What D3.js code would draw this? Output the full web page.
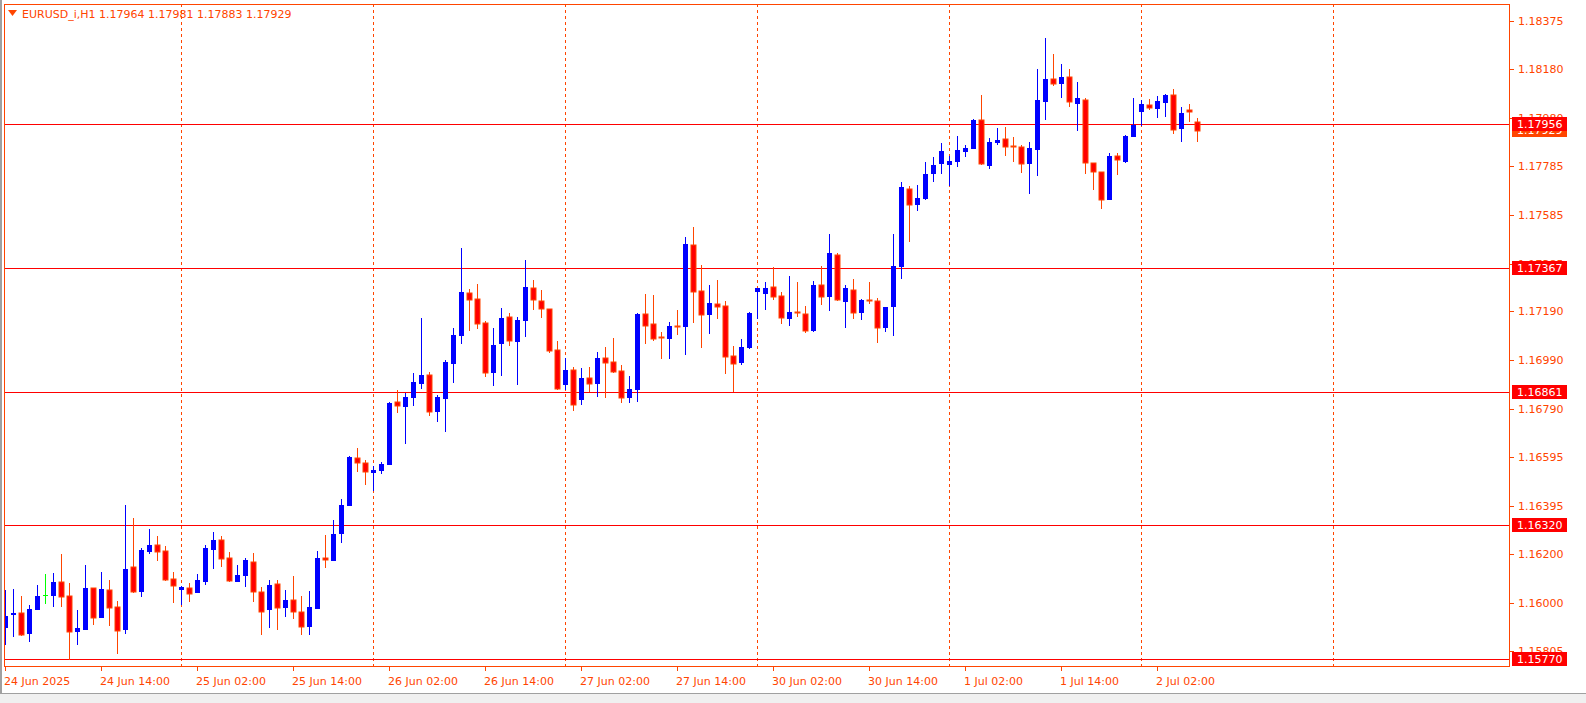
<!DOCTYPE html>
<html>
<head>
<meta charset="utf-8">
<script src="https://cdn.jsdelivr.net/npm/d3@7"></script>
<style>
  body { margin: 0; background: #fff; }
  svg { display: block; }
  text { font-family: "DejaVu Sans", sans-serif; font-size: 11px; }
</style>
</head>
<body>
<svg id="chart" width="1586" height="703"></svg>
<script>
// EURUSD_i H1, bar by bar (O, H, L, C)
var opens = [1.15898,1.15953,1.15960,1.15873,1.15972,1.16032,1.16031,1.16087,1.16030,1.15884,
  1.15892,1.16062,1.15941,1.16054,1.15985,1.15892,1.16148,1.16047,1.16210,1.16238,
  1.16213,1.16099,1.16055,1.16062,1.16043,1.16088,1.16217,1.16258,1.16185,1.16088,
  1.16108,1.16168,1.16046,1.15970,1.16078,1.15982,1.16013,1.15964,1.15904,1.15978,
  1.16185,1.16172,1.16284,1.16397,1.16591,1.16571,1.16533,1.16541,1.16565,1.16820,
  1.16798,1.16839,1.16896,1.16931,1.16778,1.16831,1.16977,1.17092,1.17266,1.17241,
  1.17143,1.16937,1.17059,1.17166,1.17067,1.17153,1.17285,1.17232,1.17199,1.17032,
  1.16888,1.16950,1.16829,1.16918,1.16895,1.17000,1.16982,1.16947,1.16835,1.16869,
  1.17180,1.17139,1.17086,1.17079,1.17132,1.17126,1.17461,1.17273,1.17177,1.17220,
  1.17212,1.17008,1.16981,1.17042,1.17271,1.17262,1.17290,1.17253,1.17160,1.17186,
  1.17180,1.17111,1.17298,1.17250,1.17420,1.17230,1.17277,1.17185,1.17235,1.17233,
  1.17124,1.17208,1.17371,1.17689,1.17626,1.17649,1.17753,1.17790,1.17790,1.17802,
  1.17843,1.17855,1.17972,1.17786,1.17879,1.17894,1.17865,1.17862,1.17794,1.17847,
  1.18044,1.18139,1.18120,1.18147,1.18036,1.18053,1.17796,1.17760,1.17647,1.17825,
  1.17802,1.17904,1.18006,1.18032,1.18018,1.18043,1.18074,1.17936,1.18013,1.17964];
var highs = [1.16054,1.16058,1.16027,1.15993,1.16074,1.16119,1.16122,1.16201,1.16083,1.15972,
  1.16156,1.16062,1.16127,1.16092,1.16010,1.16401,1.16348,1.16224,1.16303,1.16274,
  1.16231,1.16125,1.16068,1.16081,1.16119,1.16238,1.16288,1.16274,1.16210,1.16156,
  1.16183,1.16206,1.16065,1.16092,1.16092,1.16054,1.16111,1.16030,1.16051,1.16213,
  1.16278,1.16340,1.16425,1.16598,1.16633,1.16584,1.16560,1.16576,1.16822,1.16870,
  1.16856,1.16938,1.17164,1.16941,1.16850,1.16992,1.17123,1.17449,1.17281,1.17302,
  1.17152,1.17123,1.17203,1.17184,1.17166,1.17400,1.17319,1.17278,1.17200,1.17070,
  1.16998,1.16965,1.16959,1.16963,1.17024,1.17045,1.17082,1.16971,1.16927,1.17184,
  1.17261,1.17257,1.17106,1.17147,1.17196,1.17494,1.17534,1.17379,1.17298,1.17318,
  1.17233,1.17049,1.17077,1.17188,1.17286,1.17310,1.17371,1.17269,1.17335,1.17310,
  1.17212,1.17314,1.17375,1.17506,1.17428,1.17298,1.17322,1.17241,1.17310,1.17245,
  1.17208,1.17506,1.17720,1.17700,1.17707,1.17800,1.17822,1.17878,1.17825,1.17904,
  1.17870,1.17977,1.18074,1.17898,1.17939,1.17943,1.17902,1.17870,1.17882,1.18180,
  1.18306,1.18241,1.18200,1.18180,1.18127,1.18062,1.17796,1.17760,1.17838,1.17837,
  1.17911,1.18062,1.18051,1.18057,1.18067,1.18079,1.18098,1.18026,1.18037,1.17981];
var lows = [1.15830,1.15860,1.15864,1.15839,1.15970,1.15996,1.15982,1.15982,1.15768,1.15827,
  1.15888,1.15911,1.15938,1.15908,1.15793,1.15875,1.16039,1.16023,1.16200,1.16170,
  1.16088,1.16002,1.15993,1.16006,1.16040,1.16074,1.16140,1.16147,1.16084,1.16088,
  1.16064,1.16006,1.15870,1.15900,1.15891,1.15941,1.15936,1.15868,1.15870,1.15978,
  1.16141,1.16172,1.16243,1.16394,1.16535,1.16482,1.16459,1.16527,1.16564,1.16776,
  1.16650,1.16802,1.16875,1.16764,1.16737,1.16699,1.16899,1.17055,1.17112,1.17119,
  1.16922,1.16884,1.16927,1.17047,1.16890,1.17086,1.17194,1.17164,1.17021,1.16870,
  1.16870,1.16782,1.16809,1.16861,1.16839,1.16838,1.16937,1.16815,1.16815,1.16820,
  1.17057,1.17071,1.16996,1.16996,1.17094,1.17012,1.17143,1.17041,1.17098,1.17160,
  1.16935,1.16861,1.16971,1.17037,1.17159,1.17196,1.17238,1.17139,1.17131,1.17169,
  1.17103,1.17106,1.17218,1.17193,1.17234,1.17124,1.17160,1.17156,1.17222,1.17063,
  1.17107,1.17091,1.17324,1.17475,1.17598,1.17643,1.17720,1.17752,1.17700,1.17781,
  1.17822,1.17855,1.17787,1.17772,1.17868,1.17826,1.17798,1.17753,1.17671,1.17741,
  1.17969,1.18108,1.18059,1.18026,1.17928,1.17749,1.17684,1.17606,1.17647,1.17745,
  1.17794,1.17904,1.17945,1.18013,1.17981,1.17985,1.17912,1.17883,1.17961,1.17883];
var closes = [1.15948,1.15960,1.15870,1.15977,1.16030,1.16032,1.16087,1.16027,1.15884,1.15900,
  1.16062,1.15941,1.16058,1.15982,1.15888,1.16140,1.16047,1.16217,1.16238,1.16210,
  1.16095,1.16072,1.16066,1.16039,1.16095,1.16225,1.16258,1.16182,1.16092,1.16115,
  1.16174,1.16047,1.15964,1.16074,1.15982,1.16013,1.15962,1.15902,1.15985,1.16185,
  1.16175,1.16282,1.16401,1.16597,1.16571,1.16533,1.16544,1.16568,1.16817,1.16802,
  1.16840,1.16903,1.16931,1.16778,1.16841,1.16984,1.17094,1.17270,1.17239,1.17141,
  1.16937,1.17052,1.17164,1.17067,1.17156,1.17290,1.17234,1.17199,1.17026,1.16873,
  1.16950,1.16807,1.16918,1.16895,1.17000,1.16981,1.16940,1.16835,1.16873,1.17180,
  1.17132,1.17079,1.17084,1.17131,1.17130,1.17465,1.17271,1.17177,1.17224,1.17209,
  1.17005,1.16977,1.17045,1.17184,1.17286,1.17286,1.17250,1.17165,1.17188,1.17184,
  1.17111,1.17298,1.17247,1.17428,1.17235,1.17286,1.17185,1.17237,1.17233,1.17124,
  1.17208,1.17375,1.17698,1.17624,1.17654,1.17752,1.17788,1.17845,1.17805,1.17849,
  1.17858,1.17972,1.17794,1.17882,1.17890,1.17860,1.17863,1.17794,1.17858,1.18053,
  1.18139,1.18117,1.18147,1.18044,1.18062,1.17794,1.17761,1.17647,1.17825,1.17807,
  1.17907,1.17951,1.18037,1.18018,1.18049,1.18074,1.17930,1.18000,1.18003,1.17929];

var priceTicks = [1.18375,1.18180,1.17980,1.17785,1.17585,1.17385,1.17190,1.16990,1.16790,1.16595,1.16395,1.16200,1.16000,1.15805];
var levels = [1.17956, 1.17367, 1.16861, 1.16320, 1.15770];
var bidPrice = 1.17929;
var timeLabels = ['24 Jun 2025','24 Jun 14:00','25 Jun 02:00','25 Jun 14:00','26 Jun 02:00','26 Jun 14:00',
  '27 Jun 02:00','27 Jun 14:00','30 Jun 02:00','30 Jun 14:00','1 Jul 02:00','1 Jul 14:00','2 Jul 02:00'];
var labelEvery = 12;
var separators = [22, 46, 70, 94, 118, 142, 166];
var title = 'EURUSD_i,H1  1.17964 1.17981 1.17883 1.17929';

var fg = '#FF4500';
var svg = d3.select('#chart');
var plotL = 4, plotR = 1509, plotT = 4, plotB = 666;

var x = d3.scaleLinear().domain([0, 1]).range([5, 13]);
var y = d3.scaleLinear().domain([1.16000, 1.18375]).range([603, 21]);

// window edges
svg.append('rect').attr('x', 0).attr('y', 0).attr('width', 2).attr('height', 703).attr('fill', '#a0a0a0');
svg.append('rect').attr('x', 0).attr('y', 693).attr('width', 1586).attr('height', 10).attr('fill', '#f0f0f0');
svg.append('line').attr('x1', 0).attr('x2', 1586).attr('y1', 693.5).attr('y2', 693.5).attr('stroke', '#a0a0a0');

svg.append('clipPath').attr('id', 'plot')
  .append('rect').attr('x', plotL).attr('y', plotT).attr('width', plotR - plotL).attr('height', plotB - plotT);
var plot = svg.append('g').attr('clip-path', 'url(#plot)');

// period separators
plot.selectAll('.sep').data(separators).enter().append('line')
  .attr('x1', function(d) { return Math.round(x(d)) + 0.5; })
  .attr('x2', function(d) { return Math.round(x(d)) + 0.5; })
  .attr('y1', plotT).attr('y2', plotB)
  .attr('stroke', fg).attr('stroke-dasharray', '3,3');

// horizontal levels
plot.selectAll('.lvl').data(levels).enter().append('line')
  .attr('x1', plotL).attr('x2', plotR)
  .attr('y1', function(d) { return Math.round(y(d)) + 0.5; })
  .attr('y2', function(d) { return Math.round(y(d)) + 0.5; })
  .attr('stroke', '#FF0000');

// candles
var idx = d3.range(opens.length);
var candle = plot.selectAll('.c').data(idx).enter().append('g');
function col(i) {
  if (opens[i] === closes[i]) return '#00FF00';
  return closes[i] > opens[i] ? '#0000FF' : fg;
}
candle.append('line')
  .attr('x1', function(i) { return Math.round(x(i)) + 0.5; })
  .attr('x2', function(i) { return Math.round(x(i)) + 0.5; })
  .attr('y1', function(i) { return Math.round(y(highs[i])); })
  .attr('y2', function(i) { return Math.round(y(lows[i])); })
  .attr('stroke', col);
candle.append('rect')
  .attr('x', function(i) { return Math.round(x(i)) - 2; })
  .attr('width', 5)
  .attr('y', function(i) { return Math.round(y(Math.max(opens[i], closes[i]))); })
  .attr('height', function(i) { return Math.max(1, Math.round(y(Math.min(opens[i], closes[i])) - y(Math.max(opens[i], closes[i])))); })
  .attr('fill', function(i) { return closes[i] < opens[i] ? '#FF0000' : col(i); })
  .attr('stroke', function(i) { return closes[i] < opens[i] ? fg : 'none'; })
  .attr('stroke-width', 1);

// frame
svg.append('rect').attr('x', plotL + 0.5).attr('y', plotT + 0.5)
  .attr('width', plotR - plotL).attr('height', plotB - plotT)
  .attr('fill', 'none').attr('stroke', fg);

// price axis
var yAxis = svg.append('g');
yAxis.selectAll('line').data(priceTicks).enter().append('line')
  .attr('x1', plotR + 1).attr('x2', plotR + 5)
  .attr('y1', function(d) { return Math.round(y(d)) + 0.5; })
  .attr('y2', function(d) { return Math.round(y(d)) + 0.5; })
  .attr('stroke', fg);
yAxis.selectAll('text').data(priceTicks).enter().append('text')
  .attr('x', 1518).attr('y', function(d) { return y(d) + 4; })
  .attr('fill', fg).text(function(d) { return d.toFixed(5); });

function priceBox(p, fill) {
  var g = svg.append('g');
  g.append('rect').attr('x', 1512).attr('y', Math.round(y(p)) - 7).attr('width', 55).attr('height', 14).attr('fill', fill);
  g.append('text').attr('x', 1517).attr('y', y(p) + 4).attr('fill', '#fff').text(p.toFixed(5));
}
priceBox(bidPrice, '#FF4500');
levels.forEach(function(p) { priceBox(p, '#FF0000'); });

// time axis
var tAxis = svg.append('g');
tAxis.selectAll('line').data(timeLabels).enter().append('line')
  .attr('x1', function(d, i) { return Math.round(x(i * labelEvery)) + 0.5; })
  .attr('x2', function(d, i) { return Math.round(x(i * labelEvery)) + 0.5; })
  .attr('y1', plotB + 1).attr('y2', plotB + 5)
  .attr('stroke', fg);
tAxis.selectAll('text').data(timeLabels).enter().append('text')
  .attr('x', function(d, i) { return x(i * labelEvery) - 1; })
  .attr('y', 685).attr('fill', fg).text(function(d) { return d; });

// title
svg.append('path').attr('d', 'M8,10 L17,10 L12.5,16 Z').attr('fill', fg);
svg.append('text').attr('x', 22).attr('y', 18).attr('fill', fg).text(title);
</script>
</body>
</html>
